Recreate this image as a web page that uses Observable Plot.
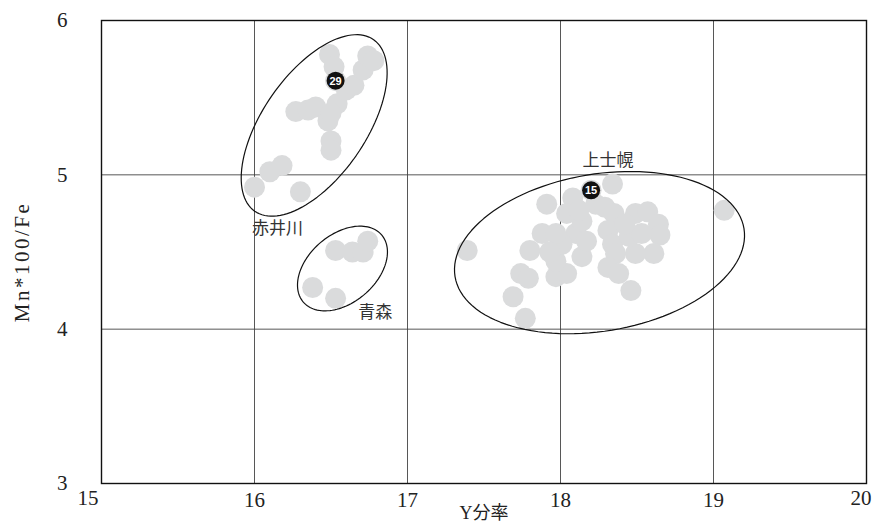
<!DOCTYPE html>
<html>
<head>
<meta charset="utf-8">
<script src="https://cdn.jsdelivr.net/npm/d3@7"></script>
<script src="https://cdn.jsdelivr.net/npm/@observablehq/plot@0.6"></script>
<style>
  html, body { margin: 0; padding: 0; background: #fff; }
</style>
</head>
<body>
<div id="chart"></div>
<script>
// ---- data ----
const xTicks = [15, 16, 17, 18, 19, 20];
const yTicks = [3, 4, 5, 6];

// 赤井川
const akaiX = [16.00, 16.10, 16.18, 16.30, 16.27, 16.35, 16.40, 16.48, 16.50, 16.50, 16.54, 16.50, 16.49, 16.52, 16.53, 16.60, 16.65, 16.71, 16.74, 16.78];
const akaiY = [4.92, 5.02, 5.06, 4.89, 5.41, 5.42, 5.44, 5.35, 5.22, 5.16, 5.46, 5.40, 5.78, 5.70, 5.61, 5.55, 5.58, 5.68, 5.77, 5.74];

// 青森
const aomoriX = [16.38, 16.53, 16.53, 16.64, 16.71, 16.74];
const aomoriY = [4.27, 4.20, 4.51, 4.50, 4.50, 4.57];

// 上士幌
const kamiX = [17.39, 17.91, 17.88, 17.80, 17.74, 17.79, 17.69, 17.77, 18.08, 18.04, 18.10, 18.14, 17.97, 18.04, 17.97, 18.01, 17.97, 18.14, 18.17, 18.23, 18.29, 18.35, 18.34, 18.20, 18.31, 18.34, 18.36, 18.31, 18.38, 18.46, 18.49, 18.57, 18.64, 18.65, 18.61, 18.49, 18.45, 18.53, 18.42, 19.07, 18.12, 17.93];
const kamiY = [4.51, 4.81, 4.62, 4.51, 4.36, 4.33, 4.21, 4.07, 4.85, 4.75, 4.62, 4.47, 4.34, 4.36, 4.44, 4.55, 4.62, 4.70, 4.57, 4.81, 4.79, 4.75, 4.94, 4.90, 4.64, 4.55, 4.49, 4.40, 4.36, 4.25, 4.75, 4.76, 4.68, 4.61, 4.49, 4.49, 4.60, 4.62, 4.68, 4.77, 4.77, 4.50];

// numbered markers
const markerX = [16.53, 18.20];
const markerY = [5.61, 4.90];
const markerLabel = ["29", "15"];

// group labels
const groupNames = ["赤井川", "青森", "上士幌"];
const groupLabelX = [16.15, 16.79, 18.31];
const groupLabelY = [4.65, 4.11, 5.09];

// enclosing ellipses (center, semi-axes in x units, rotation in degrees)
const ellipseCX = [16.39, 16.575, 18.255];
const ellipseCY = [5.32, 4.393, 4.496];
const ellipseA = [0.678, 0.336, 0.957];
const ellipseB = [0.337, 0.221, 0.509];
const ellipseAngle = [55, 40, 9.35];

// ---- build tables ----
const points = [
  ...akaiX.map((x, i) => ({x, y: akaiY[i]})),
  ...aomoriX.map((x, i) => ({x, y: aomoriY[i]})),
  ...kamiX.map((x, i) => ({x, y: kamiY[i]}))
];
const markers = markerX.map((x, i) => ({x, y: markerY[i], label: markerLabel[i]}));
const labels = groupNames.map((name, i) => ({name, x: groupLabelX[i], y: groupLabelY[i]}));

const ellipsePts = [];
ellipseCX.forEach((cx, k) => {
  const th = ellipseAngle[k] * Math.PI / 180;
  const a = ellipseA[k], b = ellipseB[k], cy = ellipseCY[k];
  for (let j = 0; j < 120; j++) {
    const t = (j / 120) * 2 * Math.PI;
    ellipsePts.push({
      id: k,
      x: cx + a * Math.cos(t) * Math.cos(th) - b * Math.sin(t) * Math.sin(th),
      y: cy + a * Math.cos(t) * Math.sin(th) + b * Math.sin(t) * Math.cos(th)
    });
  }
});

const serif = "Liberation Serif, DejaVu Serif, Noto Sans CJK JP, serif";
const gothic = "Noto Sans CJK JP, sans-serif";
const ink = "#222";

const chart = Plot.plot({
  width: 874,
  height: 527,
  marginLeft: 101,
  marginRight: 8,
  marginTop: 20,
  marginBottom: 44,
  style: {fontFamily: serif, fontSize: "20px", color: ink, background: "#fff"},
  x: {domain: [15, 20], ticks: xTicks},
  y: {domain: [3, 6], ticks: yTicks},
  marks: [
    Plot.gridX(xTicks.slice(1, -1), {stroke: "#444", strokeOpacity: 1, strokeWidth: 0.9}),
    Plot.gridY(yTicks.slice(1, -1), {stroke: "#444", strokeOpacity: 1, strokeWidth: 0.9}),
    Plot.dot(points, {x: "x", y: "y", r: 10.5, fill: "#dadbdc", stroke: "none"}),
    Plot.line(ellipsePts, {x: "x", y: "y", z: "id", curve: "linear-closed", stroke: "#111", strokeWidth: 1.2}),
    Plot.dot(markers, {x: "x", y: "y", r: 9, fill: "#111", stroke: "none"}),
    Plot.text(markers, {x: "x", y: "y", text: "label", fill: "#fff", fontWeight: "bold", fontSize: 11, fontFamily: "Liberation Sans Narrow, Liberation Sans, sans-serif", dy: 0.5}),
    Plot.text(labels, {x: "x", y: "y", text: "name", fill: "#333", fontSize: 17, fontFamily: gothic}),
    Plot.frame({stroke: "#111", strokeWidth: 1.4}),
    Plot.axisY(yTicks, {tickSize: 0, tickPadding: 34, fontSize: 21, fontFamily: serif, fill: ink, label: null, tickFormat: d => String(d)}),
    Plot.axisX(xTicks.slice(1, -1), {tickSize: 0, tickPadding: 9, fontSize: 21, fontFamily: serif, fill: ink, label: null, tickFormat: d => String(d)}),
    Plot.text([15], {x: d => d, frameAnchor: "bottom", dy: 21, dx: -3, textAnchor: "end", fontSize: 21, fontFamily: serif, fill: ink}),
    Plot.text([20], {x: d => d, frameAnchor: "bottom", dy: 21, dx: 5, textAnchor: "end", fontSize: 21, fontFamily: serif, fill: ink}),
    Plot.text(["Y分率"], {frameAnchor: "bottom", dy: 35, fontSize: 18, fontFamily: serif, fill: ink}),
    Plot.text(["Mn*100/Fe"], {frameAnchor: "left", textAnchor: "middle", dx: -79, dy: 10, rotate: -90, fontSize: 21, fontFamily: serif, fill: ink})
  ]
});
d3.select(chart).selectAll("text").filter(function() { return this.textContent === "Mn*100/Fe"; }).attr("letter-spacing", "2.5px");
document.getElementById("chart").appendChild(chart);
</script>
</body>
</html>
